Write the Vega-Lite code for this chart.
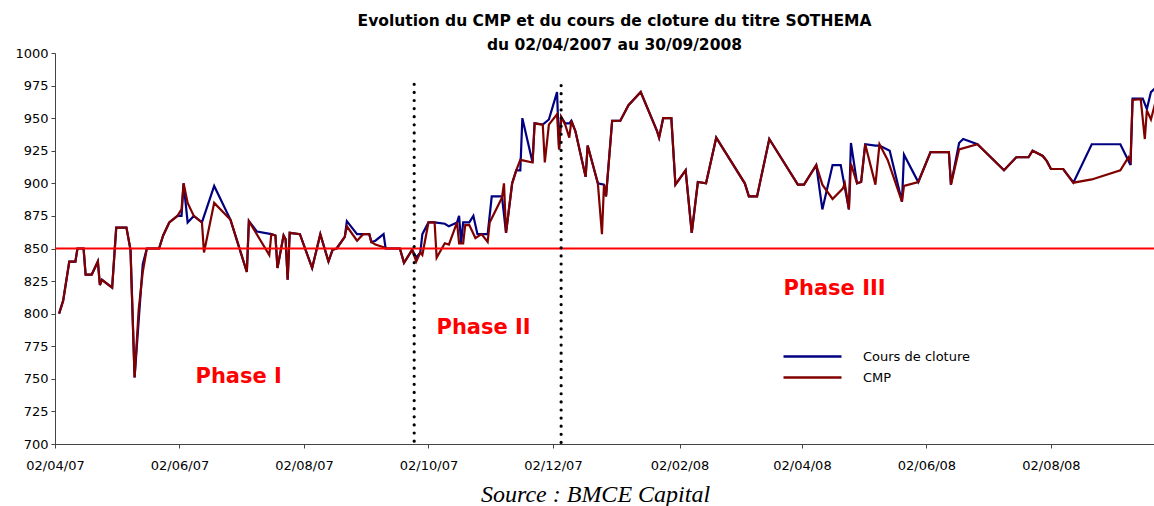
{
  "$schema": "https://vega.github.io/schema/vega-lite/v6.json",
  "width": 1099,
  "height": 391,
  "autosize": {"type": "none"},
  "padding": {"left": 55, "top": 53, "right": 0, "bottom": 62},
  "background": "white",
  "config": {"view": {"stroke": null}, "font": "DejaVu Sans"},
  "title": {
    "text": ["Evolution du CMP et du cours de cloture du titre SOTHEMA", "du 02/04/2007 au 30/09/2008"],
    "font": "DejaVu Sans",
    "fontSize": 15.5,
    "fontWeight": "bold",
    "color": "black",
    "lineHeight": 24,
    "anchor": "middle",
    "offset": 0,
    "dx": 10,
    "dy": 6
  },
  "datasets": {
    "prix": [
      {"date": "2007-04-04", "Cours de cloture": 800, "CMP": 800},
      {"date": "2007-04-06", "Cours de cloture": 810, "CMP": 810},
      {"date": "2007-04-09", "Cours de cloture": 840, "CMP": 840},
      {"date": "2007-04-12", "Cours de cloture": 840, "CMP": 840},
      {"date": "2007-04-13", "Cours de cloture": 850, "CMP": 850},
      {"date": "2007-04-16", "Cours de cloture": 850, "CMP": 850},
      {"date": "2007-04-17", "Cours de cloture": 830, "CMP": 830},
      {"date": "2007-04-20", "Cours de cloture": 830, "CMP": 830},
      {"date": "2007-04-23", "Cours de cloture": 840, "CMP": 840},
      {"date": "2007-04-24", "Cours de cloture": 822, "CMP": 822},
      {"date": "2007-04-25", "Cours de cloture": 826, "CMP": 826},
      {"date": "2007-04-30", "Cours de cloture": 820, "CMP": 820},
      {"date": "2007-05-02", "Cours de cloture": 866, "CMP": 866},
      {"date": "2007-05-07", "Cours de cloture": 866, "CMP": 866},
      {"date": "2007-05-09", "Cours de cloture": 849, "CMP": 849},
      {"date": "2007-05-11", "Cours de cloture": 751, "CMP": 751},
      {"date": "2007-05-13", "CMP": 803},
      {"date": "2007-05-15", "Cours de cloture": 838, "CMP": 832},
      {"date": "2007-05-17", "Cours de cloture": 850, "CMP": 850},
      {"date": "2007-05-23", "Cours de cloture": 850, "CMP": 850},
      {"date": "2007-05-25", "Cours de cloture": 860, "CMP": 860},
      {"date": "2007-05-28", "Cours de cloture": 870, "CMP": 870},
      {"date": "2007-06-01", "Cours de cloture": 875, "CMP": 875},
      {"date": "2007-06-03", "Cours de cloture": 875, "CMP": 880},
      {"date": "2007-06-04", "Cours de cloture": 900, "CMP": 900},
      {"date": "2007-06-06", "Cours de cloture": 870, "CMP": 885},
      {"date": "2007-06-09", "Cours de cloture": 875, "CMP": 875},
      {"date": "2007-06-13", "Cours de cloture": 870, "CMP": 870},
      {"date": "2007-06-14", "CMP": 847},
      {"date": "2007-06-19", "Cours de cloture": 898, "CMP": 885},
      {"date": "2007-06-27", "Cours de cloture": 872, "CMP": 872},
      {"date": "2007-07-05", "Cours de cloture": 832, "CMP": 832},
      {"date": "2007-07-06", "Cours de cloture": 871, "CMP": 871},
      {"date": "2007-07-10", "Cours de cloture": 863},
      {"date": "2007-07-16", "CMP": 845},
      {"date": "2007-07-17", "Cours de cloture": 861, "CMP": 861},
      {"date": "2007-07-19", "Cours de cloture": 860, "CMP": 860},
      {"date": "2007-07-20", "Cours de cloture": 835, "CMP": 835},
      {"date": "2007-07-23", "Cours de cloture": 860, "CMP": 860},
      {"date": "2007-07-24", "Cours de cloture": 857, "CMP": 857},
      {"date": "2007-07-25", "Cours de cloture": 826, "CMP": 826},
      {"date": "2007-07-26", "Cours de cloture": 862, "CMP": 862},
      {"date": "2007-07-31", "Cours de cloture": 861, "CMP": 861},
      {"date": "2007-08-06", "Cours de cloture": 835, "CMP": 835},
      {"date": "2007-08-10", "Cours de cloture": 861, "CMP": 861},
      {"date": "2007-08-14", "Cours de cloture": 840, "CMP": 840},
      {"date": "2007-08-16", "Cours de cloture": 849, "CMP": 849},
      {"date": "2007-08-18", "Cours de cloture": 850, "CMP": 850},
      {"date": "2007-08-22", "Cours de cloture": 859, "CMP": 859},
      {"date": "2007-08-23", "Cours de cloture": 871, "CMP": 867},
      {"date": "2007-08-28", "Cours de cloture": 861, "CMP": 856},
      {"date": "2007-08-31", "Cours de cloture": 861, "CMP": 861},
      {"date": "2007-09-03", "Cours de cloture": 861, "CMP": 861},
      {"date": "2007-09-04", "Cours de cloture": 855, "CMP": 855},
      {"date": "2007-09-06", "Cours de cloture": 856, "CMP": 853},
      {"date": "2007-09-10", "Cours de cloture": 861, "CMP": 851},
      {"date": "2007-09-11", "Cours de cloture": 850, "CMP": 850},
      {"date": "2007-09-18", "Cours de cloture": 850, "CMP": 850},
      {"date": "2007-09-20", "Cours de cloture": 839, "CMP": 839},
      {"date": "2007-09-24", "Cours de cloture": 849, "CMP": 849},
      {"date": "2007-09-26", "Cours de cloture": 843, "CMP": 840},
      {"date": "2007-09-28", "Cours de cloture": 847, "CMP": 847},
      {"date": "2007-09-29", "Cours de cloture": 861, "CMP": 845},
      {"date": "2007-10-02", "Cours de cloture": 870, "CMP": 870},
      {"date": "2007-10-05", "Cours de cloture": 870, "CMP": 870},
      {"date": "2007-10-06", "CMP": 843},
      {"date": "2007-10-10", "Cours de cloture": 869, "CMP": 854},
      {"date": "2007-10-12", "Cours de cloture": 867, "CMP": 853},
      {"date": "2007-10-16", "Cours de cloture": 870, "CMP": 870},
      {"date": "2007-10-17", "Cours de cloture": 875, "CMP": 854},
      {"date": "2007-10-18", "Cours de cloture": 854},
      {"date": "2007-10-19", "Cours de cloture": 870, "CMP": 854},
      {"date": "2007-10-20", "CMP": 868},
      {"date": "2007-10-22", "Cours de cloture": 870, "CMP": 868},
      {"date": "2007-10-24", "Cours de cloture": 875},
      {"date": "2007-10-25", "CMP": 858},
      {"date": "2007-10-26", "Cours de cloture": 861},
      {"date": "2007-10-28", "CMP": 861},
      {"date": "2007-10-31", "Cours de cloture": 861, "CMP": 855},
      {"date": "2007-11-01", "CMP": 870},
      {"date": "2007-11-02", "Cours de cloture": 890},
      {"date": "2007-11-07", "Cours de cloture": 890, "CMP": 889},
      {"date": "2007-11-08", "CMP": 900},
      {"date": "2007-11-09", "Cours de cloture": 862, "CMP": 862},
      {"date": "2007-11-12", "Cours de cloture": 900, "CMP": 900},
      {"date": "2007-11-14", "Cours de cloture": 910, "CMP": 910},
      {"date": "2007-11-16", "Cours de cloture": 910, "CMP": 918},
      {"date": "2007-11-17", "Cours de cloture": 950},
      {"date": "2007-11-22", "Cours de cloture": 916, "CMP": 916},
      {"date": "2007-11-23", "Cours de cloture": 946, "CMP": 946},
      {"date": "2007-11-27", "Cours de cloture": 945, "CMP": 945},
      {"date": "2007-11-28", "CMP": 916},
      {"date": "2007-11-30", "Cours de cloture": 949, "CMP": 945},
      {"date": "2007-12-04", "Cours de cloture": 970, "CMP": 953},
      {"date": "2007-12-05", "Cours de cloture": 926, "CMP": 926},
      {"date": "2007-12-06", "Cours de cloture": 951, "CMP": 951},
      {"date": "2007-12-08", "Cours de cloture": 946, "CMP": 945},
      {"date": "2007-12-10", "Cours de cloture": 946, "CMP": 935},
      {"date": "2007-12-11", "Cours de cloture": 948, "CMP": 948},
      {"date": "2007-12-13", "Cours de cloture": 940, "CMP": 940},
      {"date": "2007-12-18", "Cours de cloture": 905, "CMP": 905},
      {"date": "2007-12-19", "Cours de cloture": 929, "CMP": 929},
      {"date": "2007-12-24", "Cours de cloture": 900, "CMP": 900},
      {"date": "2007-12-26", "CMP": 861},
      {"date": "2007-12-27", "Cours de cloture": 899, "CMP": 899},
      {"date": "2007-12-28", "Cours de cloture": 890, "CMP": 890},
      {"date": "2007-12-31", "Cours de cloture": 948, "CMP": 948},
      {"date": "2008-01-04", "Cours de cloture": 948, "CMP": 948},
      {"date": "2008-01-08", "Cours de cloture": 960, "CMP": 960},
      {"date": "2008-01-14", "Cours de cloture": 970, "CMP": 970},
      {"date": "2008-01-22", "Cours de cloture": 940, "CMP": 940},
      {"date": "2008-01-23", "Cours de cloture": 935, "CMP": 935},
      {"date": "2008-01-25", "Cours de cloture": 950, "CMP": 950},
      {"date": "2008-01-29", "Cours de cloture": 950, "CMP": 950},
      {"date": "2008-01-31", "Cours de cloture": 899, "CMP": 899},
      {"date": "2008-02-05", "Cours de cloture": 910, "CMP": 910},
      {"date": "2008-02-08", "Cours de cloture": 862, "CMP": 862},
      {"date": "2008-02-11", "Cours de cloture": 901, "CMP": 901},
      {"date": "2008-02-15", "Cours de cloture": 900, "CMP": 900},
      {"date": "2008-02-20", "Cours de cloture": 935, "CMP": 935},
      {"date": "2008-03-05", "Cours de cloture": 900, "CMP": 900},
      {"date": "2008-03-07", "Cours de cloture": 890, "CMP": 890},
      {"date": "2008-03-11", "Cours de cloture": 890, "CMP": 890},
      {"date": "2008-03-17", "Cours de cloture": 934, "CMP": 934},
      {"date": "2008-03-31", "Cours de cloture": 899, "CMP": 899},
      {"date": "2008-04-03", "Cours de cloture": 899, "CMP": 899},
      {"date": "2008-04-09", "Cours de cloture": 914, "CMP": 914},
      {"date": "2008-04-12", "Cours de cloture": 880, "CMP": 899},
      {"date": "2008-04-17", "Cours de cloture": 914, "CMP": 888},
      {"date": "2008-04-21", "Cours de cloture": 914},
      {"date": "2008-04-22", "CMP": 896},
      {"date": "2008-04-23", "CMP": 900},
      {"date": "2008-04-25", "Cours de cloture": 880, "CMP": 880},
      {"date": "2008-04-26", "Cours de cloture": 931, "CMP": 915},
      {"date": "2008-04-29", "Cours de cloture": 900, "CMP": 900},
      {"date": "2008-05-01", "Cours de cloture": 901, "CMP": 901},
      {"date": "2008-05-03", "Cours de cloture": 930, "CMP": 930},
      {"date": "2008-05-08", "Cours de cloture": 929, "CMP": 899},
      {"date": "2008-05-10", "Cours de cloture": 929, "CMP": 930},
      {"date": "2008-05-14", "CMP": 918},
      {"date": "2008-05-15", "Cours de cloture": 925},
      {"date": "2008-05-21", "Cours de cloture": 886, "CMP": 886},
      {"date": "2008-05-22", "Cours de cloture": 922, "CMP": 898},
      {"date": "2008-05-29", "Cours de cloture": 901, "CMP": 901},
      {"date": "2008-06-04", "Cours de cloture": 924, "CMP": 924},
      {"date": "2008-06-13", "Cours de cloture": 924, "CMP": 924},
      {"date": "2008-06-14", "Cours de cloture": 899, "CMP": 899},
      {"date": "2008-06-18", "Cours de cloture": 931, "CMP": 926},
      {"date": "2008-06-20", "Cours de cloture": 934},
      {"date": "2008-06-27", "Cours de cloture": 930, "CMP": 930},
      {"date": "2008-07-10", "Cours de cloture": 910, "CMP": 910},
      {"date": "2008-07-16", "Cours de cloture": 920, "CMP": 920},
      {"date": "2008-07-22", "Cours de cloture": 920, "CMP": 920},
      {"date": "2008-07-24", "Cours de cloture": 925, "CMP": 925},
      {"date": "2008-07-29", "Cours de cloture": 921, "CMP": 921},
      {"date": "2008-07-31", "Cours de cloture": 917, "CMP": 917},
      {"date": "2008-08-02", "Cours de cloture": 911, "CMP": 911},
      {"date": "2008-08-08", "Cours de cloture": 911, "CMP": 911},
      {"date": "2008-08-13", "Cours de cloture": 900.5, "CMP": 900.5},
      {"date": "2008-08-22", "Cours de cloture": 930, "CMP": 903},
      {"date": "2008-09-05", "Cours de cloture": 930, "CMP": 910},
      {"date": "2008-09-09", "CMP": 920},
      {"date": "2008-09-10", "Cours de cloture": 914, "CMP": 917},
      {"date": "2008-09-11", "Cours de cloture": 965, "CMP": 964},
      {"date": "2008-09-15", "CMP": 964.5},
      {"date": "2008-09-16", "Cours de cloture": 965},
      {"date": "2008-09-17", "CMP": 934},
      {"date": "2008-09-18", "Cours de cloture": 957, "CMP": 956},
      {"date": "2008-09-20", "Cours de cloture": 970, "CMP": 949},
      {"date": "2008-09-22", "Cours de cloture": 973, "CMP": 961}
    ],
    "seuil": [
      {"date": "2007-04-02", "fin": "2008-09-23", "value": 850}
    ],
    "phases": [
      {"date": "2007-09-25", "value": 976},
      {"date": "2007-12-06", "value": 975}
    ],
    "etiquettes": [
      {"date": "2007-07-01", "value": 751.5, "label": "Phase I"},
      {"date": "2007-10-29", "value": 789, "label": "Phase II"},
      {"date": "2008-04-18", "value": 819, "label": "Phase III"}
    ]
  },
  "encoding": {
    "x": {
      "field": "date",
      "type": "temporal",
      "scale": {
        "domain": [
          {"year": 2007, "month": 4, "date": 2, "utc": true},
          {"year": 2008, "month": 9, "date": 21, "hours": 12, "utc": true}
        ]
      },
      "axis": {
        "values": [
          {"year": 2007, "month": 4, "date": 2, "utc": true},
          {"year": 2007, "month": 6, "date": 2, "utc": true},
          {"year": 2007, "month": 8, "date": 2, "utc": true},
          {"year": 2007, "month": 10, "date": 2, "utc": true},
          {"year": 2007, "month": 12, "date": 2, "utc": true},
          {"year": 2008, "month": 2, "date": 2, "utc": true},
          {"year": 2008, "month": 4, "date": 2, "utc": true},
          {"year": 2008, "month": 6, "date": 2, "utc": true},
          {"year": 2008, "month": 8, "date": 2, "utc": true}
        ],
        "labelExpr": "utcFormat(datum.value, '%d/%m/%y')",
        "grid": false,
        "labelFont": "DejaVu Sans",
        "labelFontSize": 13,
        "labelColor": "black",
        "labelFlush": false,
        "labelOverlap": false,
        "labelPadding": 11,
        "tickSize": 4,
        "tickColor": "#444",
        "domainColor": "#444",
        "title": "Source : BMCE Capital",
        "titleFont": "Liberation Serif",
        "titleFontStyle": "italic",
        "titleFontWeight": "normal",
        "titleFontSize": 24,
        "titleColor": "black",
        "titlePadding": 10,
        "titleX": 540
      }
    },
    "y": {
      "field": "value",
      "type": "quantitative",
      "scale": {"domain": [700, 1000], "nice": false, "zero": false},
      "axis": {
        "values": [700, 725, 750, 775, 800, 825, 850, 875, 900, 925, 950, 975, 1000],
        "format": "d",
        "grid": false,
        "title": null,
        "labelFont": "DejaVu Sans",
        "labelFontSize": 13,
        "labelColor": "black",
        "labelPadding": 3,
        "tickSize": 4,
        "tickColor": "#444",
        "domainColor": "#444"
      }
    }
  },
  "layer": [
    {
      "data": {"name": "prix"},
      "transform": [
        {"fold": ["Cours de cloture", "CMP"], "as": ["serie", "value"]},
        {"filter": "isValid(datum.value)"}
      ],
      "mark": {"type": "line", "strokeWidth": 2.2, "clip": true},
      "encoding": {
        "color": {
          "field": "serie",
          "type": "nominal",
          "scale": {"domain": ["Cours de cloture", "CMP"], "range": ["#000080", "#800000"]},
          "legend": {
            "orient": "none",
            "legendX": 727,
            "legendY": 293,
            "title": null,
            "symbolType": "stroke",
            "symbolSize": 3364,
            "symbolStrokeWidth": 2.5,
            "clipHeight": 21,
            "labelFont": "DejaVu Sans",
            "labelFontSize": 13,
            "labelColor": "black",
            "labelOffset": 20,
            "rowPadding": 0
          }
        }
      }
    },
    {
      "data": {"name": "seuil"},
      "mark": {"type": "rule", "color": "#FF0000", "strokeWidth": 2.2, "clip": true},
      "encoding": {
        "x2": {"field": "fin"}
      }
    },
    {
      "data": {"name": "phases"},
      "mark": {"type": "rule", "color": "black", "strokeWidth": 3.2, "strokeDash": [0.01, 8.1], "strokeCap": "round"},
      "encoding": {
        "y2": {"datum": 700}
      }
    },
    {
      "data": {"name": "etiquettes"},
      "mark": {"type": "text", "color": "#FF0000", "font": "DejaVu Sans", "fontSize": 21, "fontWeight": "bold", "align": "center", "baseline": "middle"},
      "encoding": {
        "text": {"field": "label"}
      }
    }
  ]
}
